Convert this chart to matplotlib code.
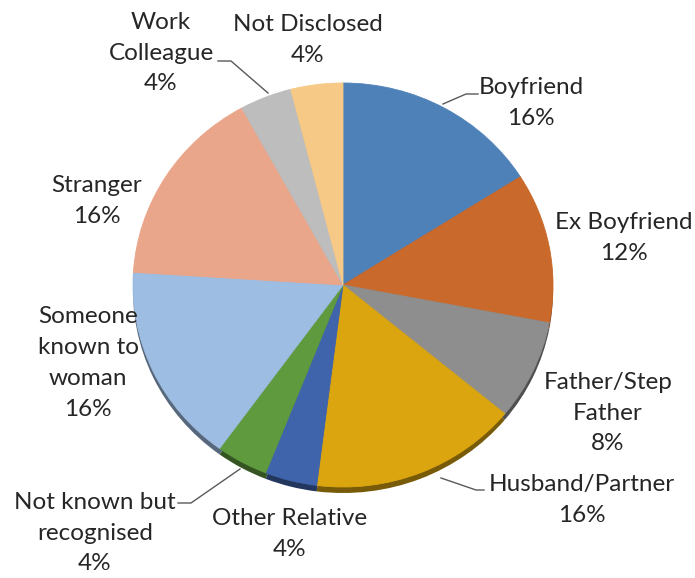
import numpy as np
import matplotlib.pyplot as plt
import matplotlib.colors as mcolors

plt.rcParams['font.family'] = ['Lato', 'DejaVu Sans']

# perpetrator categories, clockwise from 12 o'clock
labels = ['Boyfriend', 'Ex Boyfriend', 'Father/Step\nFather', 'Husband/Partner',
          'Other Relative', 'Not known but\nrecognised', 'Someone\nknown to\nwoman',
          'Stranger', 'Work\nColleague', 'Not Disclosed']
shares = [16, 12, 8, 16, 4, 4, 16, 16, 4, 4]
colors = ['#4f81b9', '#c9692b', '#8e8e8e', '#dba510', '#3f64ab',
          '#5f9a3e', '#9ebde2', '#eaa68a', '#bdbdbd', '#f6c987']

# label block centres in pixels (x, y from top)
label_pos = [(531, 103), (624, 238), (608, 413), (582, 500), (290, 534),
             (95, 533), (88, 363), (97, 201), (161, 53), (308, 40)]

W, H = 695, 578
ky = 202 / 210.0          # vertical squash for the tilted pie
cx, cy, r = 343, 285, 210
depth = 6


def to_data(px, py):
    return px, (H - py) / ky


fig = plt.figure(figsize=(W / 100, H / 100), dpi=100)
ax = fig.add_axes([0, 0, 1, 1])

# side of the pie: darker copy shifted down a few pixels
dark = [mcolors.to_hex(np.array(mcolors.to_rgb(c)) * 0.55) for c in colors]
ax.pie(shares, colors=dark, startangle=90, counterclock=False,
       center=to_data(cx, cy + depth), radius=r, frame=True,
       wedgeprops=dict(edgecolor='none', linewidth=0))

ax.pie(shares, colors=colors, startangle=90, counterclock=False,
       center=to_data(cx, cy), radius=r, frame=True,
       wedgeprops=dict(linewidth=0.6))
for w, c in zip(ax.patches[len(shares):], colors):
    w.set_edgecolor(c)

ax.set_xlim(0, W)
ax.set_ylim(0, H / ky)
ax.set_aspect('auto')
ax.axis('off')

for lab, s, (px, py) in zip(labels, shares, label_pos):
    fig.text(px / W, 1 - py / H, '{0}\n{1}%'.format(lab, s),
             ha='center', va='center', fontsize=17.5, color='#262626',
             linespacing=1.58)

# leader lines (pixel coordinates)
leaders = [
    [(443, 104), (466, 94), (478, 94)],
    [(441, 478), (476, 490), (484, 490)],
    [(240, 469), (191, 503), (178, 503)],
    [(268, 93), (231, 61), (218, 61)],
]
for pts in leaders:
    xs, ys = zip(*[to_data(x, y) for x, y in pts])
    ax.plot(xs, ys, color='#595959', lw=1)

fig.savefig('out.png', dpi=100)
